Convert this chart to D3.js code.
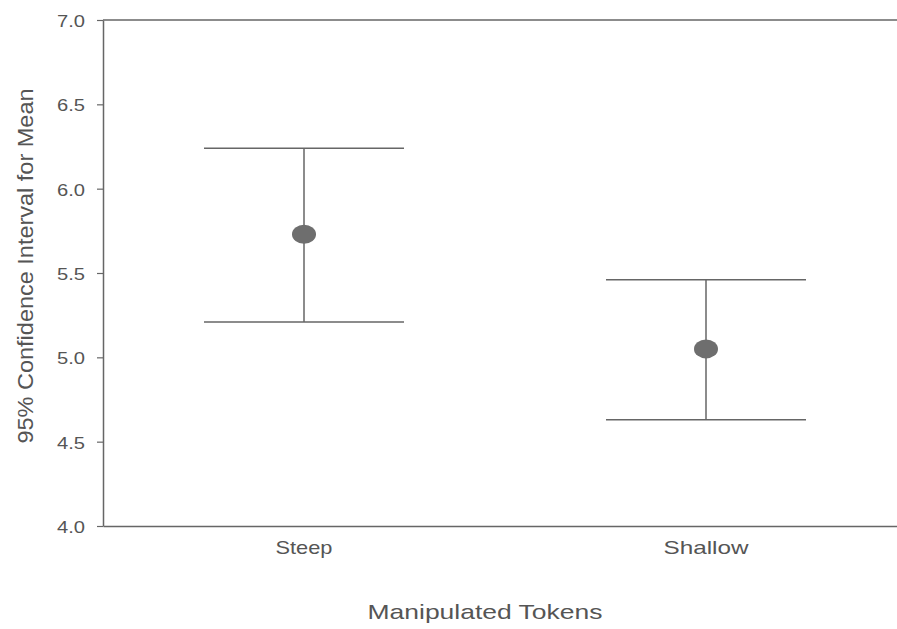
<!DOCTYPE html>
<html><head><meta charset="utf-8">
<script src="https://cdn.jsdelivr.net/npm/d3@7"></script>
<style>body{margin:0;background:#fff;} text{font-family:Arial,"Liberation Sans",sans-serif;fill:#555;}</style>
</head><body><svg id="c" width="897" height="629"></svg>
<script>
const categories = ["Steep", "Shallow"];
const means = [5.73, 5.05];
const lowers = [5.21, 4.63];
const uppers = [6.24, 5.46];
const yTicks = [4.0, 4.5, 5.0, 5.5, 6.0, 6.5, 7.0];

(function () {
const svg = d3.select("#c");
const mLeft = 103, mTop = 20, mBottom = 526, mRight = 907;
const x = d3.scaleBand().domain(categories).range([mLeft, mRight]).padding(0);
const y = d3.scaleLinear().domain([4, 7]).range([mBottom, mTop]);
const col = "#666";
const ff = "Arial, 'Liberation Sans', sans-serif";

svg.append("line").attr("x1", mLeft).attr("x2", 897).attr("y1", mTop).attr("y2", mTop)
  .attr("stroke", col).attr("stroke-width", 1.5);

const ya = svg.append("g").attr("transform", `translate(${mLeft},0)`)
  .call(d3.axisLeft(y).tickValues(yTicks).tickFormat(d3.format(".1f")).tickSize(6).tickSizeOuter(0));
ya.select(".domain").attr("stroke", col).attr("stroke-width", 1.5);
ya.selectAll(".tick line").attr("stroke", col).attr("stroke-width", 1.2);
ya.selectAll(".tick text").attr("font-size", 16).attr("fill", "#666").attr("font-family", ff)
  .attr("x", -18).attr("dy", "0.4em").attr("textLength", 28).attr("lengthAdjust", "spacingAndGlyphs");

const xa = svg.append("g").attr("transform", `translate(0,${mBottom})`)
  .call(d3.axisBottom(x).tickSize(0).tickSizeOuter(0));
xa.select(".domain").attr("stroke", col).attr("stroke-width", 1.5);
xa.selectAll(".tick text").attr("font-size", 19).attr("fill", "#555").attr("font-family", ff)
  .attr("dy", "0").attr("y", 28)
  .attr("textLength", d => d === "Steep" ? 57 : 85).attr("lengthAdjust", "spacingAndGlyphs");

const capHalf = 100;
const g = svg.append("g");
categories.forEach((c, i) => {
  const cx = x(c) + x.bandwidth() / 2;
  g.append("line").attr("x1", cx).attr("x2", cx).attr("y1", y(uppers[i])).attr("y2", y(lowers[i])).attr("stroke", col).attr("stroke-width", 1.5);
  [uppers[i], lowers[i]].forEach(v => {
    g.append("line").attr("x1", cx - capHalf).attr("x2", cx + capHalf).attr("y1", y(v)).attr("y2", y(v)).attr("stroke", col).attr("stroke-width", 1.5);
  });
  g.append("ellipse").attr("cx", cx).attr("cy", y(means[i])).attr("rx", 12).attr("ry", 9.5).attr("fill", "#6e6e6e");
});

svg.append("text").attr("x", 485).attr("y", 619).attr("text-anchor", "middle").attr("font-size", 21)
  .attr("textLength", 235).attr("lengthAdjust", "spacingAndGlyphs").text("Manipulated Tokens");
svg.append("text").attr("transform", "translate(33,266) rotate(-90)").attr("text-anchor", "middle").attr("font-size", 22)
  .attr("textLength", 355).attr("lengthAdjust", "spacingAndGlyphs").text("95% Confidence Interval for Mean");
})();
</script></body></html>
